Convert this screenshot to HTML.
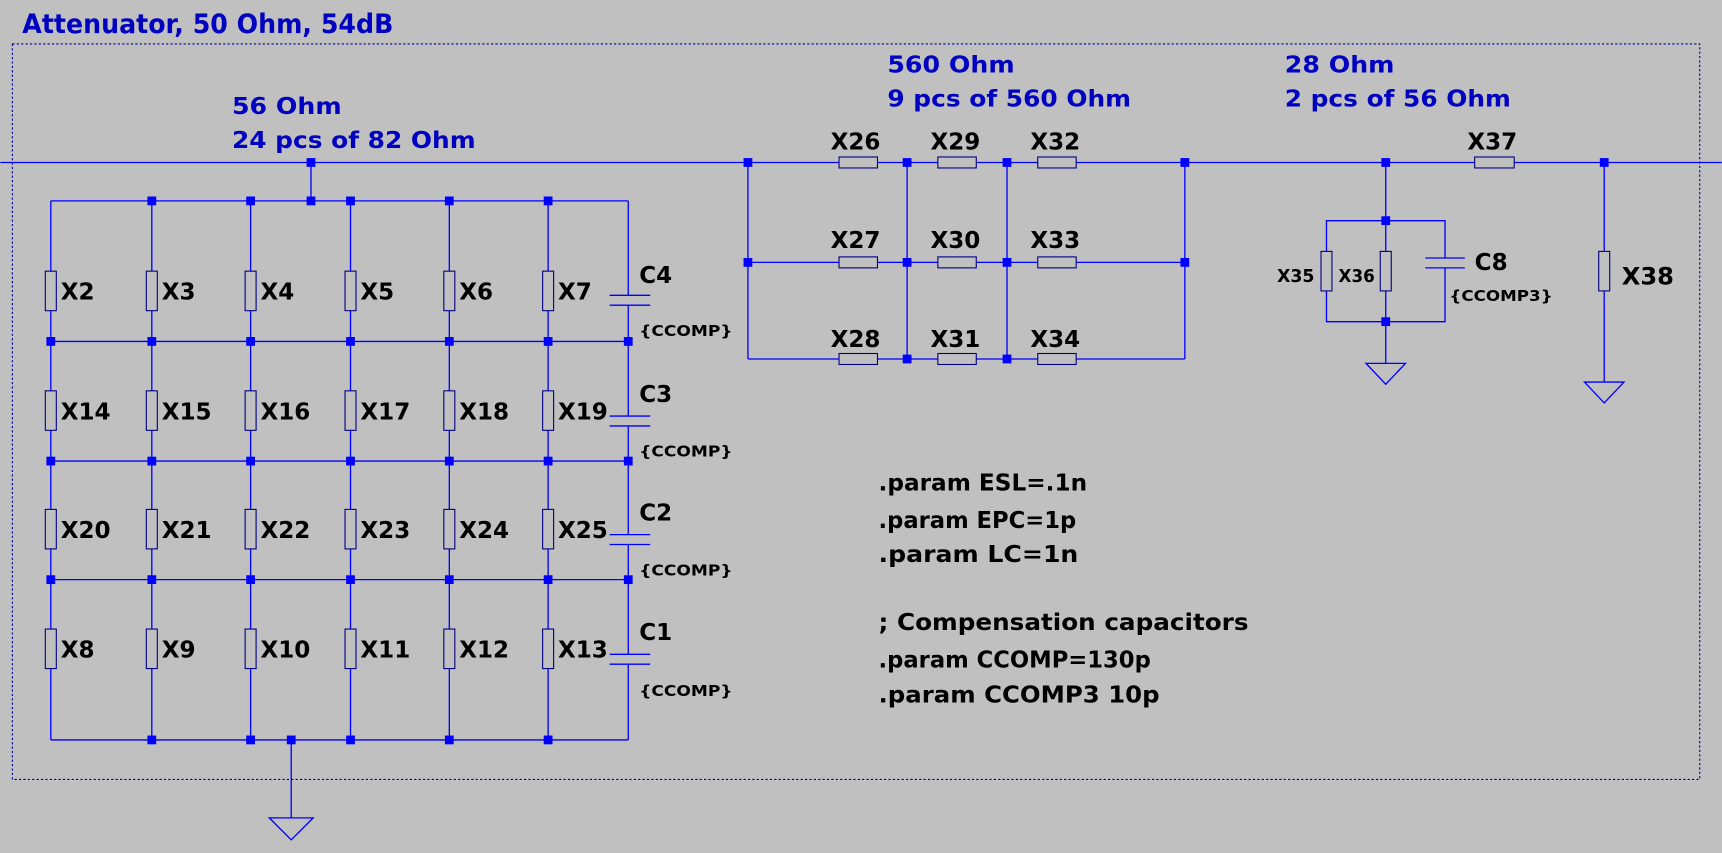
<!DOCTYPE html>
<html><head><meta charset="utf-8"><style>
html,body{margin:0;padding:0;background:#c0c0c0;}
svg{display:block;}
text{font-family:"DejaVu Sans","Liberation Sans",sans-serif;font-weight:bold;}
.b{fill:#0000c0;font-size:21px;}
.k{fill:#000;font-size:21px;}
.s{fill:#000;font-size:14px;}
.w{stroke:#0000ff;stroke-width:1.2;fill:none;}
.r{stroke:#000080;stroke-width:1;fill:#c0c0c0;}
.j{fill:#0000ff;}
</style></head><body>
<svg width="1722" height="853" viewBox="0 0 1568 777" xmlns="http://www.w3.org/2000/svg">
<rect width="1568" height="777" fill="#c0c0c0"/>
<text x="20" y="30" class="b" style="font-size:24px" textLength="338" lengthAdjust="spacingAndGlyphs">Attenuator, 50 Ohm, 54dB</text>
<rect x="11" y="40" width="1537" height="670" fill="none" stroke="#0000a0" stroke-width="1" stroke-dasharray="2,2"/>
<text x="211" y="104" class="b" textLength="100" lengthAdjust="spacingAndGlyphs">56 Ohm</text>
<text x="211" y="135" class="b" textLength="222" lengthAdjust="spacingAndGlyphs">24 pcs of 82 Ohm</text>
<text x="808" y="66" class="b" textLength="116" lengthAdjust="spacingAndGlyphs">560 Ohm</text>
<text x="808" y="97" class="b" textLength="222" lengthAdjust="spacingAndGlyphs">9 pcs of 560 Ohm</text>
<text x="1170" y="66" class="b" textLength="100" lengthAdjust="spacingAndGlyphs">28 Ohm</text>
<text x="1170" y="97" class="b" textLength="206" lengthAdjust="spacingAndGlyphs">2 pcs of 56 Ohm</text>

<path class="w" d="M0 148H1568"/>
<path class="w" d="M283 148V183 M46 183H572 M46 311H572 M46 420H572 M46 528H572 M46 674H572
M46 183V674 M138 183V674 M228 183V674 M319 183V674 M409 183V674 M499 183V674 M572 183V674
M265 674V745"/>
<path class="w" d="M245 745H285L265 765Z"/>
<g fill="#c0c0c0">
<rect x="560" y="269" width="24" height="9"/>
<rect x="560" y="379" width="24" height="9"/>
<rect x="560" y="487" width="24" height="9"/>
<rect x="560" y="596" width="24" height="9"/>
</g>
<path class="w" d="M555 269H592M555 278H592 M555 379H592M555 388H592 M555 487H592M555 496H592 M555 596H592M555 605H592"/>
<g class="r">
<rect x="41" y="247" width="10" height="36"/><rect x="133" y="247" width="10" height="36"/><rect x="223" y="247" width="10" height="36"/><rect x="314" y="247" width="10" height="36"/><rect x="404" y="247" width="10" height="36"/><rect x="494" y="247" width="10" height="36"/>
<rect x="41" y="356" width="10" height="36"/><rect x="133" y="356" width="10" height="36"/><rect x="223" y="356" width="10" height="36"/><rect x="314" y="356" width="10" height="36"/><rect x="404" y="356" width="10" height="36"/><rect x="494" y="356" width="10" height="36"/>
<rect x="41" y="464" width="10" height="36"/><rect x="133" y="464" width="10" height="36"/><rect x="223" y="464" width="10" height="36"/><rect x="314" y="464" width="10" height="36"/><rect x="404" y="464" width="10" height="36"/><rect x="494" y="464" width="10" height="36"/>
<rect x="41" y="573" width="10" height="36"/><rect x="133" y="573" width="10" height="36"/><rect x="223" y="573" width="10" height="36"/><rect x="314" y="573" width="10" height="36"/><rect x="404" y="573" width="10" height="36"/><rect x="494" y="573" width="10" height="36"/>
</g>
<g class="k">
<text x="55" y="273">X2</text><text x="147" y="273">X3</text><text x="237" y="273">X4</text><text x="328" y="273">X5</text><text x="418" y="273">X6</text><text x="508" y="273">X7</text>
<text x="55" y="382">X14</text><text x="147" y="382">X15</text><text x="237" y="382">X16</text><text x="328" y="382">X17</text><text x="418" y="382">X18</text><text x="508" y="382">X19</text>
<text x="55" y="490">X20</text><text x="147" y="490">X21</text><text x="237" y="490">X22</text><text x="328" y="490">X23</text><text x="418" y="490">X24</text><text x="508" y="490">X25</text>
<text x="55" y="599">X8</text><text x="147" y="599">X9</text><text x="237" y="599">X10</text><text x="328" y="599">X11</text><text x="418" y="599">X12</text><text x="508" y="599">X13</text>
<text x="582" y="258">C4</text><text x="582" y="366">C3</text><text x="582" y="474">C2</text><text x="582" y="583">C1</text>
</g>
<g class="s">
<text x="582" y="306" textLength="85" lengthAdjust="spacingAndGlyphs">{CCOMP}</text><text x="582" y="416" textLength="85" lengthAdjust="spacingAndGlyphs">{CCOMP}</text><text x="582" y="524" textLength="85" lengthAdjust="spacingAndGlyphs">{CCOMP}</text><text x="582" y="634" textLength="85" lengthAdjust="spacingAndGlyphs">{CCOMP}</text>
</g>
<g class="j">
<rect x="279" y="144" width="8" height="8"/>
<rect x="134" y="179" width="8" height="8"/><rect x="224" y="179" width="8" height="8"/><rect x="279" y="179" width="8" height="8"/><rect x="315" y="179" width="8" height="8"/><rect x="405" y="179" width="8" height="8"/><rect x="495" y="179" width="8" height="8"/>
<rect x="42" y="307" width="8" height="8"/><rect x="134" y="307" width="8" height="8"/><rect x="224" y="307" width="8" height="8"/><rect x="315" y="307" width="8" height="8"/><rect x="405" y="307" width="8" height="8"/><rect x="495" y="307" width="8" height="8"/><rect x="568" y="307" width="8" height="8"/>
<rect x="42" y="416" width="8" height="8"/><rect x="134" y="416" width="8" height="8"/><rect x="224" y="416" width="8" height="8"/><rect x="315" y="416" width="8" height="8"/><rect x="405" y="416" width="8" height="8"/><rect x="495" y="416" width="8" height="8"/><rect x="568" y="416" width="8" height="8"/>
<rect x="42" y="524" width="8" height="8"/><rect x="134" y="524" width="8" height="8"/><rect x="224" y="524" width="8" height="8"/><rect x="315" y="524" width="8" height="8"/><rect x="405" y="524" width="8" height="8"/><rect x="495" y="524" width="8" height="8"/><rect x="568" y="524" width="8" height="8"/>
<rect x="134" y="670" width="8" height="8"/><rect x="224" y="670" width="8" height="8"/><rect x="261" y="670" width="8" height="8"/><rect x="315" y="670" width="8" height="8"/><rect x="405" y="670" width="8" height="8"/><rect x="495" y="670" width="8" height="8"/>
</g>

<path class="w" d="M681 148V327 M1079 148V327 M826 148V327 M917 148V327 M681 239H1079 M681 327H1079"/>
<g class="r">
<rect x="764" y="143" width="35" height="10"/><rect x="854" y="143" width="35" height="10"/><rect x="945" y="143" width="35" height="10"/>
<rect x="764" y="234" width="35" height="10"/><rect x="854" y="234" width="35" height="10"/><rect x="945" y="234" width="35" height="10"/>
<rect x="764" y="322" width="35" height="10"/><rect x="854" y="322" width="35" height="10"/><rect x="945" y="322" width="35" height="10"/>
</g>
<g class="k" text-anchor="middle">
<text x="779" y="136">X26</text><text x="870" y="136">X29</text><text x="961" y="136">X32</text>
<text x="779" y="226">X27</text><text x="870" y="226">X30</text><text x="961" y="226">X33</text>
<text x="779" y="316">X28</text><text x="870" y="316">X31</text><text x="961" y="316">X34</text>
<text x="1359" y="136">X37</text>
</g>
<g class="j">
<rect x="677" y="144" width="8" height="8"/><rect x="822" y="144" width="8" height="8"/><rect x="913" y="144" width="8" height="8"/><rect x="1075" y="144" width="8" height="8"/>
<rect x="677" y="235" width="8" height="8"/><rect x="822" y="235" width="8" height="8"/><rect x="913" y="235" width="8" height="8"/><rect x="1075" y="235" width="8" height="8"/>
<rect x="822" y="323" width="8" height="8"/><rect x="913" y="323" width="8" height="8"/>
</g>

<path class="w" d="M1262 148V331 M1208 201H1316V293H1208Z M1461 148V348"/>
<path class="w" d="M1244 331H1280L1262 350Z M1443 348H1479L1461 367Z"/>
<rect x="1300" y="235" width="30" height="9" fill="#c0c0c0"/>
<path class="w" d="M1298 235H1334M1298 244H1334"/>
<g class="r">
<rect x="1203" y="229" width="10" height="36"/><rect x="1257" y="229" width="10" height="36"/><rect x="1456" y="229" width="10" height="36"/>
<rect x="1343" y="143" width="36" height="10"/>
</g>
<text x="1163" y="257" class="k" style="font-size:16px" textLength="34" lengthAdjust="spacingAndGlyphs">X35</text>
<text x="1219" y="257" class="k" style="font-size:16px" textLength="33" lengthAdjust="spacingAndGlyphs">X36</text>
<text x="1343" y="246" class="k">C8</text>
<text x="1320" y="274" class="s" textLength="94" lengthAdjust="spacingAndGlyphs">{CCOMP3}</text>
<text x="1477" y="259" class="k" style="font-size:22px">X38</text>
<g class="j">
<rect x="1258" y="144" width="8" height="8"/><rect x="1457" y="144" width="8" height="8"/>
<rect x="1258" y="197" width="8" height="8"/><rect x="1258" y="289" width="8" height="8"/>
</g>

<g class="k">
<text x="800" y="447" textLength="190" lengthAdjust="spacingAndGlyphs">.param ESL=.1n</text>
<text x="800" y="481" textLength="180" lengthAdjust="spacingAndGlyphs">.param EPC=1p</text>
<text x="800" y="512" textLength="182" lengthAdjust="spacingAndGlyphs">.param LC=1n</text>
<text x="800" y="574" textLength="337" lengthAdjust="spacingAndGlyphs">; Compensation capacitors</text>
<text x="800" y="608" textLength="248" lengthAdjust="spacingAndGlyphs">.param CCOMP=130p</text>
<text x="800" y="640" textLength="256" lengthAdjust="spacingAndGlyphs">.param CCOMP3 10p</text>
</g>
</svg>
</body></html>
